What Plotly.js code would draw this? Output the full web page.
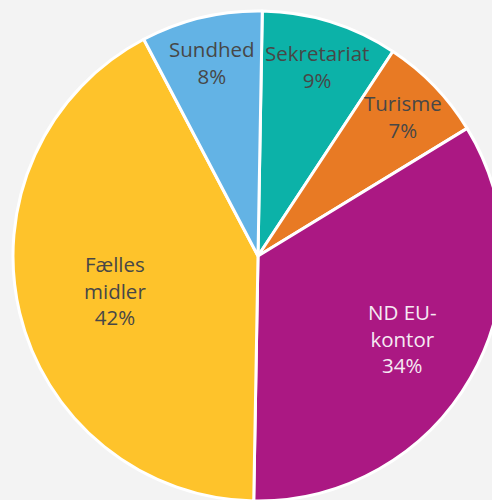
<!DOCTYPE html>
<html>
<head>
<meta charset="utf-8">
<script src="https://cdn.plot.ly/plotly-3.0.1.min.js"></script>
<style>
html,body{margin:0;padding:0;overflow:hidden;background:#f3f3f3;}
#chart{width:503px;height:501px;}
</style>
</head>
<body>
<div id="chart"></div>
<script>
// Data
const labels = ["Sekretariat", "Turisme", "ND EU-kontor", "Fælles midler", "Sundhed"];
const displayLabels = ["Sekretariat", "Turisme", "ND EU-<br>kontor", "Fælles<br>midler", "Sundhed"];
const values = [9, 7, 34, 42, 8];

// Style
const colors = ["#0cb2a8", "#e87a24", "#ab1883", "#fec32b", "#63b3e5"];
const textColors = ["#474747", "#474747", "#f6eaf3", "#474747", "#474747"];
const labelRadius = [0.81, 0.82, 0.68, 0.60, 0.81];
const rotation = 1;

const total = values.reduce((a, b) => a + b, 0);
let cum = 0;
const annotations = values.map((v, i) => {
  const midFrac = (cum + v / 2) / total;
  cum += v;
  const theta = (midFrac * 360 + rotation) * Math.PI / 180;
  const f = labelRadius[i];
  const pct = Math.round(v / total * 100) + "%";
  return {
    xref: "paper", yref: "paper",
    x: 0.5 + 0.5 * f * Math.sin(theta),
    y: 0.5 + 0.5 * f * Math.cos(theta),
    xanchor: "center", yanchor: "middle",
    text: displayLabels[i] + "<br>" + pct,
    showarrow: false,
    align: "center",
    font: { family: "Open Sans, sans-serif", size: 20.5, color: textColors[i] }
  };
});

const trace = {
  type: "pie",
  labels: labels,
  values: values,
  sort: false,
  direction: "clockwise",
  rotation: rotation,
  marker: { colors: colors, line: { color: "#ffffff", width: 3 } },
  textinfo: "none",
  hoverinfo: "none",
  showlegend: false
};

const layout = {
  width: 503,
  height: 501,
  margin: { l: 13, r: 0, t: 11, b: 0 },
  paper_bgcolor: "#f3f3f3",
  plot_bgcolor: "#f3f3f3",
  showlegend: false,
  annotations: annotations
};

Plotly.newPlot("chart", [trace], layout, { displayModeBar: false, staticPlot: true });
</script>
</body>
</html>
